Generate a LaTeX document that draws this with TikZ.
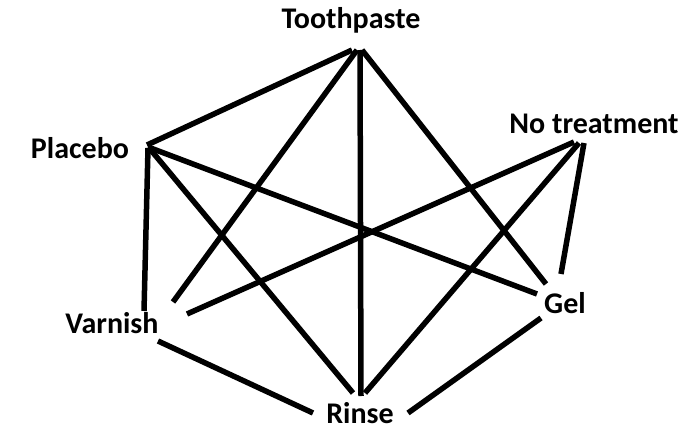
\documentclass[tikz,border=0pt]{standalone}
\usepackage{fontspec}
\setmainfont{Carlito}
\begin{document}
\begin{tikzpicture}[x=1pt,y=-1pt,
  lbl/.style={font=\bfseries\fontsize{30}{34}\selectfont, inner sep=0pt, anchor=base},
  edge/.style={line width=5.5pt, black}]
\useasboundingbox (0,0) rectangle (697,428);
% labels
\node[lbl] (toothpaste) at (351,29) {Toothpaste};
\node[lbl] (placebo) at (80,158) {Placebo};
\node[lbl] (notreat) at (594,134) {No treatment};
\node[lbl] (varnish) at (112,333) {Varnish};
\node[lbl] (gel) at (565,313) {Gel};
\node[lbl] (rinse) at (360,423) {Rinse};
% endpoints
\coordinate (tpA) at (352,50);
\coordinate (tpB) at (357,50);
\coordinate (tpC) at (360,50);
\coordinate (tpD) at (362,50);
\coordinate (plA) at (147,145);
\coordinate (plB) at (148,148);
\coordinate (plC) at (148,147);
\coordinate (plD) at (150,149);
\coordinate (ntA) at (574,142);
\coordinate (ntB) at (579,143);
\coordinate (ntC) at (584,143);
\coordinate (vaA) at (144,311);
\coordinate (vaB) at (173,302);
\coordinate (vaC) at (187,314);
\coordinate (vaD) at (158,341);
\coordinate (geA) at (537,294);
\coordinate (geB) at (546,284);
\coordinate (geC) at (561,274);
\coordinate (geD) at (541,318);
\coordinate (riA) at (313,413);
\coordinate (riB) at (353,393);
\coordinate (riC) at (361,396);
\coordinate (riD) at (365,393);
\coordinate (riE) at (408,413);
% edges
\draw[edge] (tpA) -- (plA);
\draw[edge] (tpB) -- (vaB);
\draw[edge] (tpC) -- (riC);
\draw[edge] (tpD) -- (geB);
\draw[edge] (plB) -- (vaA);
\draw[edge] (plC) -- (geA);
\draw[edge] (plD) -- (riB);
\draw[edge] (ntA) -- (vaC);
\draw[edge] (ntB) -- (riD);
\draw[edge] (ntC) -- (geC);
\draw[edge] (vaD) -- (riA);
\draw[edge] (geD) -- (riE);
\end{tikzpicture}
\end{document}
